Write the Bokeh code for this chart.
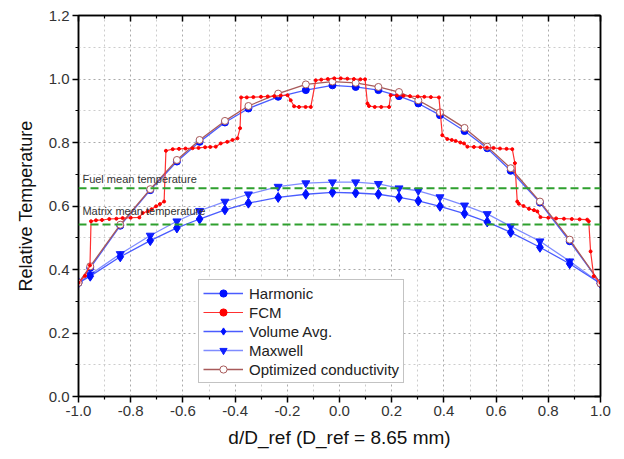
from bokeh.plotting import figure
from bokeh.models import (FixedTicker, PrintfTickFormatter, LinearAxis, Legend,
                          LegendItem, Span, Label, CustomJSTickFormatter)
from bokeh.embed import file_html
from bokeh.resources import INLINE

# ---------------- data ----------------
x_pos = [-1.0, -0.955, -0.840, -0.725, -0.623, -0.536, -0.439, -0.349, -0.235, -0.129, -0.027,
         0.062, 0.149, 0.228, 0.302, 0.385, 0.479, 0.566, 0.656, 0.768, 0.882, 1.0]
harmonic = [0.358, 0.405, 0.538, 0.650, 0.740, 0.802, 0.863, 0.907, 0.944, 0.965, 0.980,
            0.975, 0.965, 0.946, 0.923, 0.886, 0.836, 0.782, 0.711, 0.611, 0.489, 0.356]
optimized = [0.358, 0.410, 0.541, 0.653, 0.745, 0.808, 0.868, 0.915, 0.954, 0.983, 0.992,
             0.988, 0.975, 0.959, 0.933, 0.895, 0.846, 0.787, 0.719, 0.614, 0.494, 0.356]
maxwell = [0.358, 0.384, 0.449, 0.507, 0.552, 0.585, 0.614, 0.637, 0.661, 0.672, 0.675,
           0.675, 0.670, 0.656, 0.648, 0.628, 0.602, 0.575, 0.536, 0.489, 0.426, 0.356]
volume_avg = [0.358, 0.379, 0.440, 0.491, 0.531, 0.559, 0.588, 0.609, 0.627, 0.637, 0.643,
              0.641, 0.637, 0.627, 0.616, 0.599, 0.576, 0.550, 0.517, 0.470, 0.418, 0.356]

fcm_x = [-1.000, -0.975, -0.956, -0.952, -0.933, -0.910, -0.882, -0.855, -0.831, -0.800, -0.767,
         -0.754, -0.735, -0.720, -0.703, -0.688, -0.672, -0.665, -0.639, -0.615, -0.590, -0.563,
         -0.540, -0.515, -0.495, -0.474, -0.455, -0.430, -0.410, -0.391, -0.381, -0.377, -0.355,
         -0.330, -0.301, -0.275, -0.250, -0.225, -0.199, -0.187, -0.174, -0.155, -0.130, -0.110,
         -0.091, -0.070, -0.045, -0.020, 0.005, 0.030, 0.055, 0.080, 0.098, 0.107, 0.113, 0.135,
         0.160, 0.190, 0.196, 0.220, 0.245, 0.270, 0.300, 0.325, 0.350, 0.381, 0.394, 0.413,
         0.430, 0.445, 0.463, 0.477, 0.490, 0.515, 0.540, 0.565, 0.590, 0.615, 0.640, 0.662,
         0.672, 0.681, 0.687, 0.705, 0.726, 0.745, 0.758, 0.770, 0.800, 0.830, 0.860, 0.890,
         0.920, 0.949, 0.955, 0.962, 0.974, 1.000]
fcm_y = [0.358, 0.380, 0.413, 0.552, 0.555, 0.556, 0.559, 0.560, 0.562, 0.563, 0.564,
         0.578, 0.583, 0.590, 0.599, 0.606, 0.614, 0.774, 0.779, 0.780, 0.781, 0.782,
         0.783, 0.785, 0.786, 0.787, 0.797, 0.802, 0.808, 0.813, 0.845, 0.942, 0.942,
         0.943, 0.944, 0.945, 0.946, 0.948, 0.949, 0.933, 0.914, 0.912, 0.912, 0.912,
         0.996, 0.998, 1.000, 1.002, 1.002, 1.001, 1.000, 0.999, 0.999, 0.923, 0.915, 0.912,
         0.912, 0.912, 0.949, 0.948, 0.947, 0.946, 0.945, 0.944, 0.943, 0.942, 0.823, 0.811,
         0.808, 0.805, 0.800, 0.797, 0.787, 0.786, 0.785, 0.784, 0.783, 0.781, 0.780, 0.779,
         0.735, 0.614, 0.607, 0.600, 0.591, 0.587, 0.583, 0.565, 0.563, 0.561, 0.560, 0.559,
         0.558, 0.557, 0.552, 0.457, 0.379, 0.358]

fuel_mean = 0.656
matrix_mean = 0.542

x_ticks = [-1.0, -0.8, -0.6, -0.4, -0.2, 0.0, 0.2, 0.4, 0.6, 0.8, 1.0]
x_minor = [-0.9, -0.7, -0.5, -0.3, -0.1, 0.1, 0.3, 0.5, 0.7, 0.9]
y_ticks = [0.0, 0.2, 0.4, 0.6, 0.8, 1.0, 1.2]
y_minor = [0.1, 0.3, 0.5, 0.7, 0.9, 1.1]

FONT = "Liberation Sans"

# ---------------- figure ----------------
p = figure(width=614, height=450, x_range=(-1, 1), y_range=(0, 1.2),
           output_backend="svg", toolbar_location=None,
           min_border_left=78, min_border_right=14, min_border_top=15, min_border_bottom=52)
p.outline_line_color = "black"
p.outline_line_width = 1.5

xt = FixedTicker(ticks=x_ticks, minor_ticks=x_minor)
yt = FixedTicker(ticks=y_ticks, minor_ticks=y_minor)
fmt = PrintfTickFormatter(format="%.1f")

for ax, t in ((p.xaxis[0], xt), (p.yaxis[0], yt)):
    ax.ticker = t
    ax.formatter = fmt
    ax.axis_line_width = 1.5
    ax.major_tick_line_width = 1.5
    ax.minor_tick_line_width = 1.2
    ax.major_tick_out = 6
    ax.major_tick_in = 0
    ax.minor_tick_out = 3
    ax.minor_tick_in = 0
    ax.major_label_text_font = FONT
    ax.major_label_text_font_size = "15px"
    ax.major_label_text_color = "#333333"
    ax.axis_label_text_font = FONT
    ax.axis_label_text_font_style = "normal"
    ax.axis_label_text_color = "#111111"

p.xaxis.axis_label = "d/D_ref (D_ref = 8.65 mm)"
p.xaxis.axis_label_text_font_size = "19px"
p.xaxis.major_label_standoff = 3
p.xaxis.axis_label_standoff = 8
p.yaxis.axis_label = "Relative Temperature"
p.yaxis.axis_label_text_font_size = "18px"
p.yaxis.major_label_standoff = 3
p.yaxis.axis_label_standoff = 10

blank = CustomJSTickFormatter(code="return ''")
for loc, t in (("above", xt), ("right", yt)):
    ax = LinearAxis(ticker=t, formatter=blank, major_label_standoff=0,
                    axis_line_width=1.5, major_tick_line_width=1.5, minor_tick_line_width=1.2,
                    major_tick_in=6, major_tick_out=0, minor_tick_in=3, minor_tick_out=0)
    p.add_layout(ax, loc)

p.xgrid.ticker = xt
p.ygrid.ticker = yt
for g in (p.xgrid[0], p.ygrid[0]):
    g.grid_line_color = "#aaaaaa"
    g.grid_line_dash = "2 3"
    g.grid_line_width = 1
    g.minor_grid_line_color = "#cccccc"
    g.minor_grid_line_dash = "2 3"
    g.minor_grid_line_width = 1

# mean temperature lines
for v in (fuel_mean, matrix_mean):
    p.add_layout(Span(location=v, dimension="width", line_color="#2ea02e",
                      line_width=2, line_dash="8 4"))
p.add_layout(Label(x=-0.985, y=fuel_mean + 0.03, text="Fuel mean temperature",
                   text_font=FONT, text_font_size="11px", text_color="#333333",
                   text_baseline="middle"))
p.add_layout(Label(x=-0.985, y=matrix_mean + 0.041, text="Matrix mean temperature",
                   text_font=FONT, text_font_size="11px", text_color="#333333",
                   text_baseline="middle"))

# series
l_max = p.line(x_pos, maxwell, line_color="#7f8cff", line_width=1.3)
m_max = p.scatter(x_pos, maxwell, marker="inverted_triangle", size=8,
                  fill_color="#1020ff", line_color="#1020ff")
l_vol = p.line(x_pos, volume_avg, line_color="#4a5cff", line_width=1.3)
m_vol = p.scatter(x_pos, volume_avg, marker="diamond", size=10,
                  fill_color="#0010ff", line_color="#0010ff")
l_har = p.line(x_pos, harmonic, line_color="#4a5cff", line_width=1.3)
m_har = p.scatter(x_pos, harmonic, marker="circle", size=7,
                  fill_color="#0010ff", line_color="#0010ff")
l_opt = p.line(x_pos, optimized, line_color="#a85a5a", line_width=1.3)
m_opt = p.scatter(x_pos, optimized, marker="circle", size=7,
                  fill_color="white", line_color="#a85a5a", line_width=1)
l_fcm = p.line(fcm_x, fcm_y, line_color="#ff3030", line_width=1.2)
m_fcm = p.scatter(fcm_x, fcm_y, marker="circle", size=3,
                  fill_color="#ff0000", line_color="#ff0000")

legend = Legend(items=[
    LegendItem(label="Harmonic", renderers=[l_har, m_har]),
    LegendItem(label="FCM", renderers=[l_fcm, m_fcm]),
    LegendItem(label="Volume Avg.", renderers=[l_vol, m_vol]),
    LegendItem(label="Maxwell", renderers=[l_max, m_max]),
    LegendItem(label="Optimized conductivity", renderers=[l_opt, m_opt]),
], location=(120, 13))
legend.label_text_font = FONT
legend.label_text_font_size = "15px"
legend.label_text_color = "#222222"
legend.label_height = 18
legend.glyph_height = 18
legend.glyph_width = 40
legend.label_standoff = 6
legend.spacing = 1
legend.padding = 4
legend.margin = 0
legend.border_line_color = "#888888"
legend.border_line_width = 1
legend.background_fill_alpha = 1
p.add_layout(legend)

open("out.html", "w").write(file_html(p, INLINE))
